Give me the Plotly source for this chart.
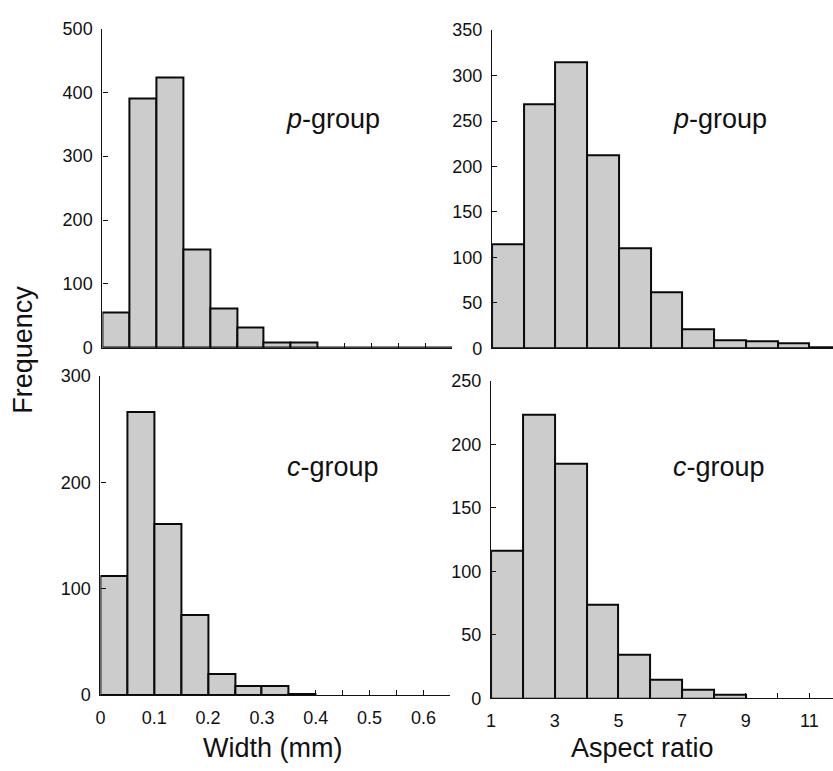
import plotly.graph_objects as go

# Width histograms (bin width 0.05 mm, starting at 0)
width_bin_start = 0.0
width_bin_size = 0.05
width_p_counts = [55, 390, 423, 154, 61, 32, 8, 8, 0, 1, 0, 0, 1]
width_c_counts = [112, 266, 161, 75, 20, 8.5, 8.5, 1]

# Aspect-ratio histograms (bin width 1, starting at 1)
ratio_bin_start = 1.0
ratio_bin_size = 1.0
ratio_p_counts = [115, 269, 315, 213, 110, 62, 21, 9, 8, 6, 1]
ratio_c_counts = [116, 223, 185, 74, 34, 14.5, 6.5, 3]

width_ticks = [0, 0.1, 0.2, 0.3, 0.4, 0.5, 0.6]
width_ticklabels = ["0", "0.1", "0.2", "0.3", "0.4", "0.5", "0.6"]
ratio_ticks = [1, 3, 5, 7, 9, 11]
ratio_ticklabels = ["1", "3", "5", "7", "9", "11"]

FONT = "Liberation Sans, Arial, Helvetica, sans-serif"
W, H = 833, 771


def centers(start, size, counts):
    return [start + size * (i + 0.5) for i in range(len(counts))]


def px_x(a, b):
    return [a / W, min(b / W, 1.0)]


def px_y(top, bottom):
    return [1 - bottom / H, 1 - top / H]


fig = go.Figure()

bar_style = dict(marker=dict(color="#cccccc", line=dict(color="#0a0a0a", width=2)),
                 showlegend=False, hoverinfo="x+y")

fig.add_trace(go.Bar(x=centers(width_bin_start, width_bin_size, width_p_counts), y=width_p_counts,
                     width=width_bin_size, xaxis="x", yaxis="y", **bar_style))
fig.add_trace(go.Bar(x=centers(ratio_bin_start, ratio_bin_size, ratio_p_counts), y=ratio_p_counts,
                     width=ratio_bin_size, xaxis="x2", yaxis="y2", **bar_style))
fig.add_trace(go.Bar(x=centers(width_bin_start, width_bin_size, width_c_counts), y=width_c_counts,
                     width=width_bin_size, xaxis="x3", yaxis="y3", **bar_style))
fig.add_trace(go.Bar(x=centers(ratio_bin_start, ratio_bin_size, ratio_c_counts), y=ratio_c_counts,
                     width=ratio_bin_size, xaxis="x4", yaxis="y4", **bar_style))

tick_font = dict(family=FONT, size=18, color="#111111")
axis_common = dict(showline=True, linecolor="#111111", linewidth=1.3, showgrid=False,
                   zeroline=False, ticks="inside", ticklen=5, tickwidth=1.3,
                   tickcolor="#111111", tickfont=tick_font, fixedrange=True)
x_common = dict(axis_common, ticklabelstandoff=6)
y_common = dict(axis_common, ticklabelstandoff=5)

# tick positions every bin; labels only at selected values
width_tickvals = [round(width_bin_start + width_bin_size * i, 2) for i in range(14)]
width_ticktext = [width_ticklabels[width_ticks.index(v)] if v in width_ticks else ""
                  for v in width_tickvals]
ratio_tickvals = list(range(1, 12))
ratio_ticktext = [ratio_ticklabels[ratio_ticks.index(v)] if v in ratio_ticks else ""
                  for v in ratio_tickvals]

fig.update_layout(
    width=W, height=H,
    margin=dict(l=0, r=0, t=0, b=0),
    paper_bgcolor="white", plot_bgcolor="white",
    bargap=0,
    font=dict(family=FONT, color="#111111"),
    # top-left: width, p-group
    xaxis=dict(domain=px_x(98, 450), range=[0, 0.65], tickmode="array",
               tickvals=width_tickvals, showticklabels=False, anchor="y", **x_common),
    yaxis=dict(domain=px_y(19, 346.7), range=[0, 500], tick0=0, dtick=100,
               anchor="x", **y_common),
    # top-right: aspect ratio, p-group
    xaxis2=dict(domain=px_x(490, 833), range=[1, 11.74], tickmode="array",
                tickvals=ratio_tickvals, showticklabels=False, anchor="y2", **x_common),
    yaxis2=dict(domain=px_y(20.7, 347.3), range=[0, 350], tick0=0, dtick=50,
                anchor="x2", **y_common),
    # bottom-left: width, c-group
    xaxis3=dict(domain=px_x(96, 448), range=[0, 0.65], tickmode="array",
                tickvals=width_tickvals, ticktext=width_ticktext, anchor="y3", **x_common),
    yaxis3=dict(domain=px_y(375.7, 703.3), range=[0, 300], tick0=0, dtick=100,
                anchor="x3", **y_common),
    # bottom-right: aspect ratio, c-group
    xaxis4=dict(domain=px_x(489, 833), range=[1, 11.74], tickmode="array",
                tickvals=ratio_tickvals, ticktext=ratio_ticktext, anchor="y4", **x_common),
    yaxis4=dict(domain=px_y(380.7, 706.7), range=[0, 250], tick0=0, dtick=50,
                anchor="x4", **y_common),
)

label_font = dict(family=FONT, size=27, color="#111111")
annotations = [
    dict(text="<i>p</i>-group", x=330 / W, y=1 - 112 / H),
    dict(text="<i>p</i>-group", x=719 / W, y=1 - 112 / H),
    dict(text="<i>c</i>-group", x=330 / W, y=1 - 469 / H),
    dict(text="<i>c</i>-group", x=718 / W, y=1 - 469 / H),
    dict(text="Width (mm)", x=269.5 / W, y=1 - 758 / H),
    dict(text="Aspect ratio", x=641 / W, y=1 - 758 / H),
    dict(text="Frequency", x=18 / W, y=1 - 349 / H, textangle=-90),
]
for a in annotations:
    fig.add_annotation(xref="paper", yref="paper", showarrow=False,
                       xanchor="center", yanchor="middle", font=label_font, **a)

fig.write_html("out.html")
